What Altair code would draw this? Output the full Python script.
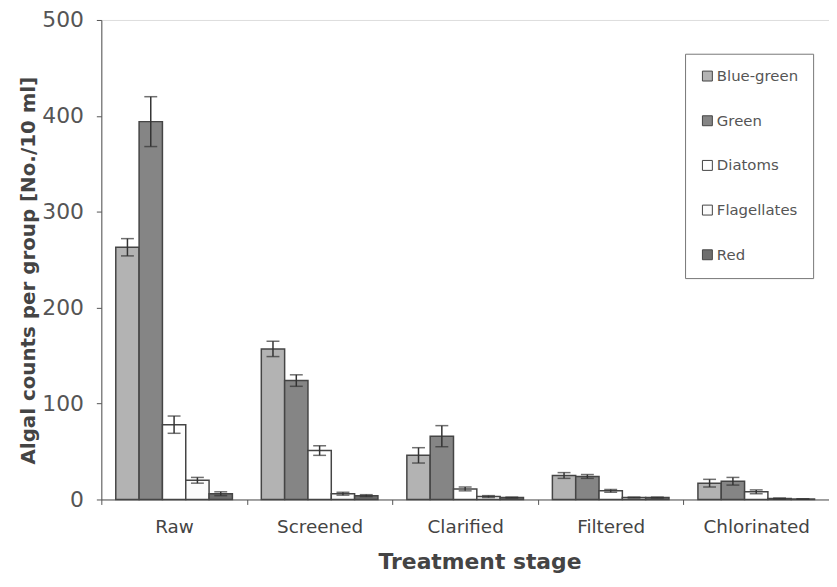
import altair as alt
import pandas as pd

stages = ["Raw", "Screened", "Clarified", "Filtered", "Chlorinated"]
groups = ["Blue-green", "Green", "Diatoms", "Flagellates", "Red"]

blue_green = [263, 157, 46, 25, 17]
green = [394, 124, 66, 24, 19]
diatoms = [78, 51, 11, 9, 8]
flagellates = [20, 6, 3, 2, 1]
red = [6, 4, 2, 2, 0.5]

err_blue_green = [9, 8, 8, 3, 4]
err_green = [26, 6, 11, 2, 4]
err_diatoms = [9, 5, 2, 1.5, 2]
err_flagellates = [3, 1.5, 1, 0.5, 0.5]
err_red = [2, 1, 0.5, 0.5, 0]

fill_colors = ["#b3b3b3", "#858585", "#ffffff", "#fbfbfb", "#6e6e6e"]

values = [blue_green, green, diatoms, flagellates, red]
errors = [err_blue_green, err_green, err_diatoms, err_flagellates, err_red]

rows = []
for g, vals, errs in zip(groups, values, errors):
    for s, v, e in zip(stages, vals, errs):
        rows.append({"stage": s, "group": g, "value": v,
                     "lo": max(v - e, 0), "hi": v + e})
df = pd.DataFrame(rows)

FONT = "DejaVu Sans"
YTITLE = "Algal counts per group [No./10 ml]"

y_axis = alt.Axis(
    values=[0, 100, 200, 300, 400, 500], grid=False,
    labelFont=FONT, labelFontSize=22, labelColor="#555", labelPadding=13,
    tickSize=5, tickColor="#555", domainColor="#555",
    title=YTITLE, titleFont=FONT, titleFontSize=20, titleFontWeight="bold",
    titleColor="#444", titlePadding=3, titleY=252,
)
y_scale = alt.Scale(domain=[0, 500], nice=False)

x_enc = alt.X(
    "stage:N", sort=stages,
    scale=alt.Scale(paddingInner=0, paddingOuter=0),
    axis=alt.Axis(
        title="Treatment stage", titleFont=FONT, titleFontSize=22,
        titleFontWeight="bold", titleColor="#444", titlePadding=16, titleX=381,
        labelAngle=0, labelFont=FONT, labelFontSize=18.5, labelColor="#444",
        labelPadding=13, tickBand="extent", tickSize=5, tickColor="#555",
        domainColor="#555",
    ),
)
xoff_enc = alt.XOffset("group:N", sort=groups,
                       scale=alt.Scale(paddingInner=0, paddingOuter=0.62))

base = alt.Chart(df).encode(x=x_enc, xOffset=xoff_enc)

bars = base.mark_bar(stroke="#454545", strokeWidth=1.5).encode(
    y=alt.Y("value:Q", scale=y_scale, axis=y_axis),
    fill=alt.Fill(
        "group:N", sort=groups,
        scale=alt.Scale(domain=groups, range=fill_colors),
        legend=alt.Legend(
            orient="none", legendX=588, legendY=34, title=None,
            symbolType="square", symbolSize=100, symbolStrokeColor="#444",
            symbolStrokeWidth=1, labelFont=FONT, labelFontSize=15,
            labelColor="#555", labelOffset=2, rowPadding=29, padding=15,
            strokeColor="#777", fillColor="white",
        ),
    ),
)

rules = base.mark_rule(color="#333", strokeWidth=1.5).encode(
    y=alt.Y("lo:Q", scale=y_scale, axis=y_axis),
    y2="hi:Q",
)
cap_hi = base.mark_tick(color="#333", thickness=1.5, size=13).encode(
    y=alt.Y("hi:Q", scale=y_scale, axis=y_axis),
)
cap_lo = base.mark_tick(color="#333", thickness=1.5, size=13).encode(
    y=alt.Y("lo:Q", scale=y_scale, axis=y_axis),
)

chart = alt.layer(bars, rules, cap_hi, cap_lo).properties(
    width=733, height=483,
    autosize=alt.AutoSizeParams(type="none"),
    padding={"left": 94, "top": 10, "right": 0, "bottom": 72},
).configure_view(stroke="#888", strokeWidth=1).configure(background="white")

chart.save("out.html", embed_options={"renderer": "svg", "actions": False})
